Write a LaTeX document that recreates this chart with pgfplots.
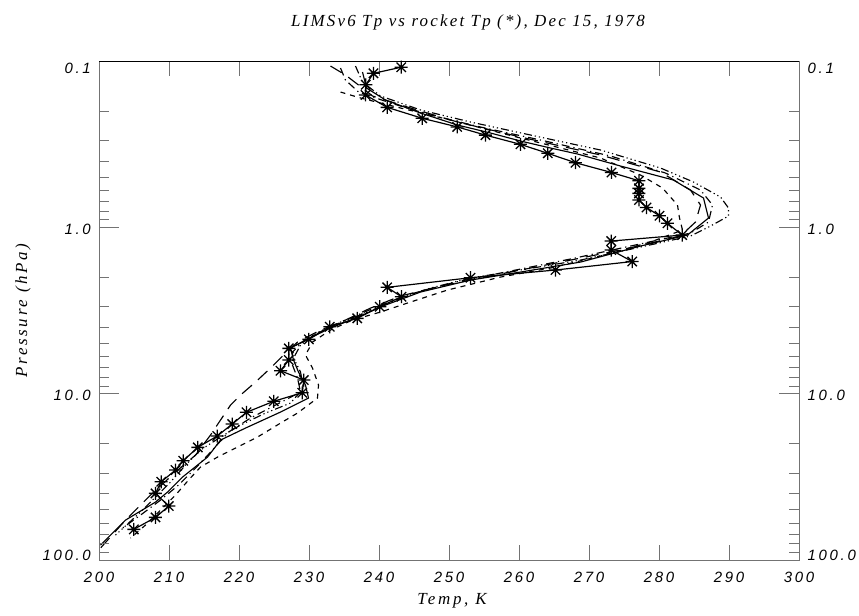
\documentclass[border=0pt]{standalone}
\usepackage{fontspec}
\setmainfont{Liberation Serif}
\newfontfamily\tickfont[LetterSpace=18]{Liberation Sans}
\newfontfamily\labfont[LetterSpace=16]{Liberation Serif}
\newfontfamily\titfont[LetterSpace=13]{Liberation Serif}
\usepackage{pgfplots}
\pgfplotsset{compat=1.18}

% IDL-like asterisk: vertical, horizontal and two diagonals
\pgfdeclareplotmark{ast8}{%
  \pgfpathmoveto{\pgfqpoint{0pt}{\pgfplotmarksize}}%
  \pgfpathlineto{\pgfqpoint{0pt}{-\pgfplotmarksize}}%
  \pgfpathmoveto{\pgfqpoint{\pgfplotmarksize}{0pt}}%
  \pgfpathlineto{\pgfqpoint{-\pgfplotmarksize}{0pt}}%
  \pgfpathmoveto{\pgfqpoint{0.72\pgfplotmarksize}{0.72\pgfplotmarksize}}%
  \pgfpathlineto{\pgfqpoint{-0.72\pgfplotmarksize}{-0.72\pgfplotmarksize}}%
  \pgfpathmoveto{\pgfqpoint{-0.72\pgfplotmarksize}{0.72\pgfplotmarksize}}%
  \pgfpathlineto{\pgfqpoint{0.72\pgfplotmarksize}{-0.72\pgfplotmarksize}}%
  \pgfusepathqstroke}

% rocket profile (T in K, p in hPa)
\pgfplotstableread{
T p
243.17 0.109
239.21 0.1186
238.11 0.139
238.07 0.160
241.17 0.190
246.17 0.221
251.17 0.249
255.21 0.279
260.21 0.317
264.11 0.359
268.07 0.409
273.21 0.468
277.14 0.525
277.14 0.583
277.14 0.625
277.14 0.685
278.21 0.760
280.07 0.852
281.21 0.946
283.31 1.113
273.17 1.209
273.17 1.369
276.17 1.606
265.21 1.806
253.07 2.009
241.17 2.295
243.21 2.614
240.11 3.002
236.89 3.526
232.97 3.961
229.97 4.716
227.11 5.341
227.11 6.282
225.93 7.283
229.26 8.283
229.03 9.876
224.97 11.11
221.07 12.94
219.03 15.23
216.89 17.98
214.11 21.03
212.03 25.32
210.93 28.80
208.89 33.87
208.07 39.77
209.97 47.41
208.07 55.43
204.97 65.46
}\rocket

% LIMS solid
\pgfplotstableread{
T p
237.64 0.1165
238.21 0.1453
240.93 0.1716
245.93 0.2054
251.21 0.2426
255.93 0.2710
260.21 0.3027
264.50 0.3336
268.36 0.3624
274.50 0.4280
282.07 0.5196
286.36 0.6667
287.07 0.8793
284.07 1.1125
277.36 1.2957
268.79 1.6176
260.21 1.8573
253.07 2.075
245.93 2.449
240.93 2.933
236.64 3.512
233.07 4.032
229.50 4.762
227.36 5.320
227.79 6.282
228.50 7.415
229.50 8.878
229.93 10.63
225.93 12.90
220.93 16.10
217.36 19.01
215.50 24.06
211.93 31.73
209.79 39.05
208.07 44.85
203.79 57.56
200.21 81.37
}\limsA

% LIMS short dashes
\pgfplotstableread{
T p
234.50 0.1537
237.36 0.1669
243.07 0.1917
250.21 0.2264
260.21 0.2904
271.64 0.3831
277.36 0.4848
280.50 0.5803
282.64 0.7344
282.93 0.8793
283.36 1.0380
278.79 1.2257
271.64 1.4882
264.50 1.7574
257.36 1.9905
249.79 2.382
244.50 2.813
240.21 3.231
236.21 3.610
233.07 4.145
230.50 4.895
229.50 5.861
230.50 7.016
231.36 8.878
231.21 10.63
228.36 13.08
225.93 15.03
222.64 18.24
219.79 20.95
216.93 24.06
214.50 27.63
212.79 33.08
210.93 40.72
208.79 50.12
206.64 61.67
204.50 73.84
}\limsB

% LIMS long dashes
\pgfplotstableread{
T p
233.07 0.1072
235.21 0.1214
237.07 0.1394
239.07 0.1623
244.50 0.1917
251.21 0.2327
260.21 0.2864
271.64 0.3674
280.21 0.4651
284.50 0.5967
285.93 0.7344
285.21 0.9293
283.07 1.128
274.50 1.3696
265.93 1.6176
257.36 1.909
248.79 2.254
243.07 2.589
238.79 3.058
235.21 3.610
231.64 4.145
228.36 4.895
226.36 5.861
224.50 7.016
222.36 8.518
220.21 10.20
218.79 11.71
217.36 14.41
215.93 17.74
213.79 23.40
210.93 29.61
207.36 40.72
203.79 57.56
200.21 84.82
}\limsC

% LIMS dash dot
\pgfplotstableread{
T p
234.50 0.1102
235.21 0.1301
237.07 0.1536
241.64 0.1789
247.36 0.2112
254.50 0.2494
263.07 0.2985
273.07 0.3725
280.93 0.4716
285.93 0.5967
287.64 0.7344
287.07 0.9293
284.50 1.0823
275.93 1.2957
267.36 1.5505
258.79 1.832
250.93 2.133
244.50 2.518
239.93 2.973
235.93 3.512
232.36 4.088
229.21 4.829
227.64 5.623
227.64 6.730
228.36 8.057
228.79 9.781
225.21 11.71
221.64 14.02
218.50 17.02
216.21 21.84
213.79 28.03
211.36 35.44
208.79 43.63
205.93 53.70
203.36 64.29
}\limsD

% LIMS dash dot dot dot
\pgfplotstableread{
T p
236.64 0.1072
237.64 0.1337
240.21 0.1623
245.93 0.1970
253.07 0.2327
261.64 0.2786
271.64 0.3429
280.21 0.4399
284.93 0.5341
288.79 0.6575
289.93 0.7656
289.93 0.8551
287.36 0.9823
284.50 1.128
277.36 1.3138
268.79 1.5733
260.21 1.806
253.07 2.018
247.36 2.317
242.36 2.736
238.07 3.276
234.50 3.711
231.36 4.262
228.79 5.104
227.79 6.11
228.79 7.415
229.21 9.254
227.36 11.39
223.79 13.08
220.21 15.45
217.36 18.24
214.50 21.84
212.36 26.88
210.21 34.01
208.07 41.86
205.93 51.52
202.36 70.85
}\limsE

\begin{document}
\begin{tikzpicture}[tk/.style={font=\tickfont\itshape\fontsize{15}{15}\selectfont,inner sep=0pt}]
\useasboundingbox (0,0) rectangle (859bp,616bp);
% data, x ticks
\begin{axis}[name=ax,at={(99bp,56bp)},anchor=south west,
    scale only axis,width=700bp,height=499bp,
    xmin=200,xmax=300,ymode=log,ymin=0.1,ymax=100,y dir=reverse,
    axis line style={black!55,line width=0.9pt},
    tick style={black!55,line width=0.9pt},
    tick align=inside,
    tick label style={font=\tickfont\itshape\fontsize{15}{15}\selectfont},
    xtick={200,210,...,300},
    xticklabels={200,210,220,230,240,250,260,270,280,290,300},
    minor x tick num=0,
    major tick length=15bp,
    ytick=\empty,
    xticklabel style={yshift=-9bp}]
\addplot[black,line width=1.15pt] table[x=T,y=p] {\limsA};
\addplot[black,line width=1.15pt,dash pattern=on 5bp off 5bp] table[x=T,y=p] {\limsB};
\addplot[black,line width=1.15pt,dash pattern=on 13bp off 8bp] table[x=T,y=p] {\limsC};
\addplot[black,line width=1.15pt,dash pattern=on 8bp off 4bp on 1.2bp off 4bp] table[x=T,y=p] {\limsD};
\addplot[black,line width=1.15pt,dash pattern=on 8bp off 3bp on 1.2bp off 3bp on 1.2bp off 3bp on 1.2bp off 3bp] table[x=T,y=p] {\limsE};
\addplot[black,line width=1.2pt,mark=ast8,mark size=6.5bp,
  mark options={line width=1.3pt,solid}] table[x=T,y=p] {\rocket};
\end{axis}
% y ticks on both sides
\begin{axis}[at={(99bp,56bp)},anchor=south west,
    scale only axis,width=700bp,height=499bp,
    xmin=200,xmax=300,ymode=log,ymin=0.1,ymax=100,y dir=reverse,
    axis line style={draw=none},
    tick style={black!55,line width=0.9pt},
    tick align=inside,
    xtick=\empty,
    ytick={0.1,1,10,100},
    yticklabels={},
    major tick length=20bp,minor tick length=10bp,
    ytick pos=both]
\end{axis}
\draw[black,line width=0.9pt] (99bp,555bp) -- (799bp,555bp);
% y tick labels, left and right (0.1, 1.0, 10.0, 100.0)
\node[tk,anchor=east] at (91bp,548bp) {0.1};
\node[tk,anchor=east] at (91bp,386.7bp) {1.0};
\node[tk,anchor=east] at (91bp,220.3bp) {10.0};
\node[tk,anchor=east] at (91bp,61bp) {100.0};
\node[tk,anchor=west] at (807.5bp,548bp) {0.1};
\node[tk,anchor=west] at (807.5bp,386.7bp) {1.0};
\node[tk,anchor=west] at (807.5bp,220.3bp) {10.0};
\node[tk,anchor=west] at (807.5bp,61bp) {100.0};
% axis titles
\node[anchor=base,font=\labfont\itshape\fontsize{17}{17}\selectfont,inner sep=0pt]
  at ([xshift=3bp,yshift=-44bp]ax.south) {Temp, K};
\node[anchor=base,rotate=90,font=\labfont\itshape\fontsize{17}{17}\selectfont,inner sep=0pt]
  at ([xshift=-72bp]ax.west) {Pressure (hPa)};
\node[anchor=base,font=\titfont\itshape\fontsize{17}{17}\selectfont,inner sep=0pt]
  at ([xshift=19bp,yshift=34bp]ax.north) {LIMSv6 Tp vs rocket Tp (*), Dec 15, 1978};
\end{tikzpicture}
\end{document}
